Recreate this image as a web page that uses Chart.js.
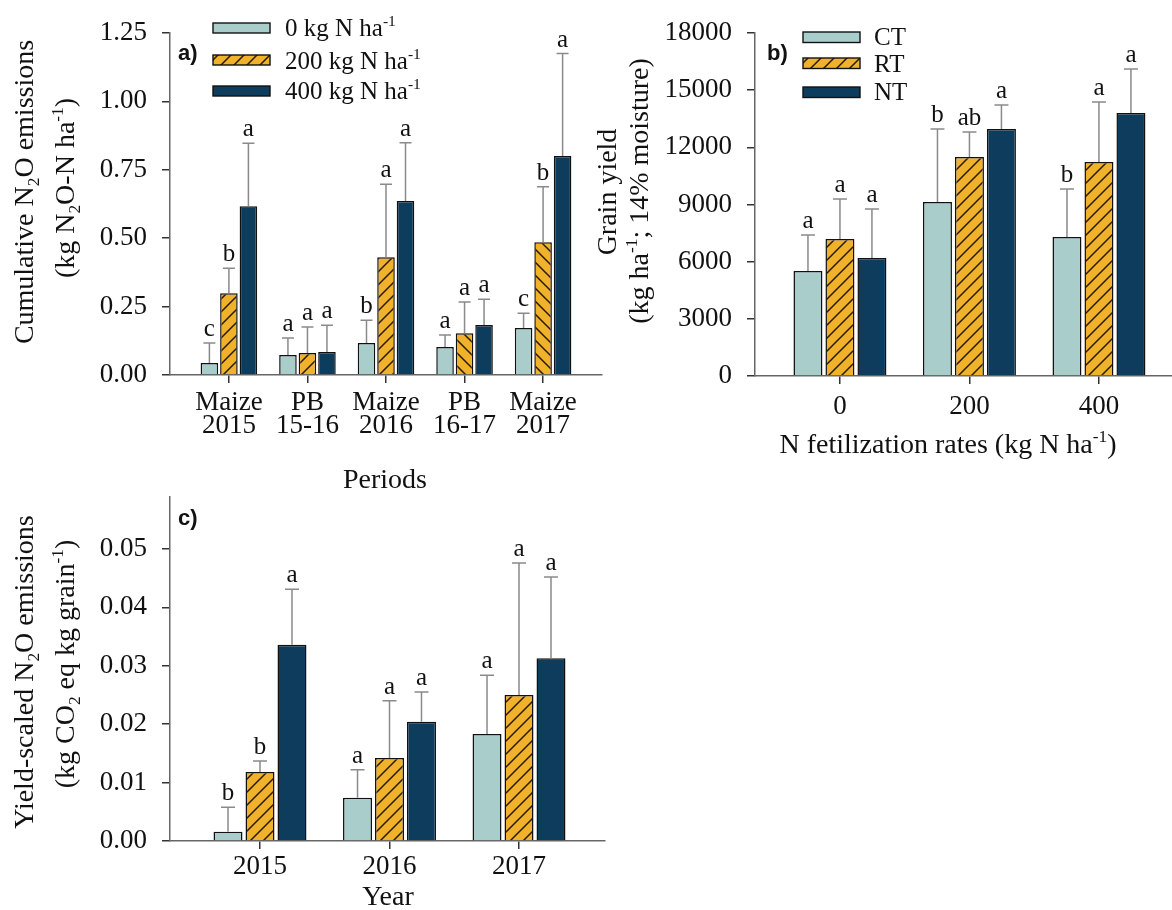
<!DOCTYPE html>
<html>
<head>
<meta charset="utf-8">
<script src="https://cdn.jsdelivr.net/npm/chart.js@4.4.1/dist/chart.umd.min.js"></script>
<style>
  html, body { margin: 0; padding: 0; background: #fff; }
  body { width: 1172px; height: 910px; position: relative; overflow: hidden; }
  canvas { position: absolute; }
</style>
</head>
<body>
<canvas id="panelA" width="615" height="500" style="left:0;top:0"></canvas>
<canvas id="panelB" width="592" height="470" style="left:580px;top:0"></canvas>
<canvas id="panelC" width="615" height="430" style="left:0;top:480px"></canvas>
<script>
// a) cumulative N2O emissions per period, by N rate
const periodLabels = [["Maize", "2015"], ["PB", "15-16"], ["Maize", "2016"], ["PB", "16-17"], ["Maize", "2017"]];
const cumTicks = [0, 0.25, 0.5, 0.75, 1.0, 1.25];
const cumN0 = [0.044, 0.073, 0.117, 0.102, 0.172];
const cumN200 = [0.299, 0.080, 0.430, 0.153, 0.485];
const cumN400 = [0.617, 0.084, 0.636, 0.183, 0.800];
const cumN0Err = [0.073, 0.062, 0.083, 0.044, 0.054];
const cumN200Err = [0.091, 0.095, 0.267, 0.114, 0.203];
const cumN400Err = [0.230, 0.098, 0.213, 0.094, 0.375];
const cumN0Sig = ["c", "a", "b", "a", "c"];
const cumN200Sig = ["b", "a", "a", "a", "b"];
const cumN400Sig = ["a", "a", "a", "a", "a"];

// b) grain yield by N rate, by tillage
const nRateLabels = ["0", "200", "400"];
const yieldTicks = [0, 3000, 6000, 9000, 12000, 15000, 18000];
const yieldCT = [5510, 9130, 7290];
const yieldRT = [7190, 11490, 11230];
const yieldNT = [6190, 12960, 13800];
const yieldCTErr = [1890, 3830, 2520];
const yieldRTErr = [2100, 1310, 3150];
const yieldNTErr = [2570, 1260, 2310];
const yieldCTSig = ["a", "b", "b"];
const yieldRTSig = ["a", "ab", "a"];
const yieldNTSig = ["a", "a", "a"];

// c) yield-scaled N2O emissions per year, by N rate
const yearLabels = ["2015", "2016", "2017"];
const ysTicks = [0, 0.01, 0.02, 0.03, 0.04, 0.05];
const ysN0 = [0.0016, 0.0074, 0.0183];
const ysN200 = [0.0118, 0.0142, 0.0250];
const ysN400 = [0.0336, 0.0204, 0.0313];
const ysN0Err = [0.0042, 0.0048, 0.0101];
const ysN200Err = [0.0019, 0.0098, 0.0226];
const ysN400Err = [0.0095, 0.0051, 0.0139];
const ysN0Sig = ["b", "a", "a"];
const ysN200Sig = ["b", "a", "a"];
const ysN400Sig = ["a", "a", "a"];

const SERIF = "'Liberation Serif', 'Times New Roman', serif";
const SANS = "'Liberation Sans', Arial, sans-serif";
const TEAL = "#a9cdcb";
const ORANGE = "#f0b22b";
const NAVY = "#0e3c5c";

Chart.defaults.font.family = SERIF;
Chart.defaults.color = "#111";

function hatch(dir) {
  const s = 13;
  const c = document.createElement("canvas");
  c.width = c.height = s;
  const g = c.getContext("2d");
  g.fillStyle = ORANGE;
  g.fillRect(0, 0, s, s);
  g.strokeStyle = "#2a1a08";
  g.lineWidth = 1.5;
  g.beginPath();
  if (dir === "/") {
    g.moveTo(-1, s + 1); g.lineTo(s + 1, -1);
    g.moveTo(-2, 2); g.lineTo(2, -2);
    g.moveTo(s - 2, s + 2); g.lineTo(s + 2, s - 2);
  } else {
    g.moveTo(-1, -1); g.lineTo(s + 1, s + 1);
    g.moveTo(s - 2, -2); g.lineTo(s + 2, 2);
    g.moveTo(-2, s - 2); g.lineTo(2, s + 2);
  }
  g.stroke();
  return g.createPattern(c, "repeat");
}
const HATCH_F = hatch("/");
const HATCH_B = hatch("\\");

// text with sub/superscript pieces: [[text], [text, 'sub'|'sup'], ...]
function richText(ctx, segs, x, y, size, opts) {
  opts = opts || {};
  const parts = segs.map(([t, k]) => {
    const fs = k ? size * 0.62 : size;
    ctx.font = fs + "px " + SERIF;
    return { t, k, fs, w: ctx.measureText(t).width };
  });
  const total = parts.reduce((a, p) => a + p.w, 0);
  ctx.save();
  ctx.translate(x, y);
  if (opts.rotate) ctx.rotate(-Math.PI / 2);
  ctx.fillStyle = "#111";
  ctx.textBaseline = "alphabetic";
  ctx.textAlign = "left";
  let cx = opts.align === "left" ? 0 : -total / 2;
  parts.forEach(p => {
    ctx.font = p.fs + "px " + SERIF;
    const dy = p.k === "sub" ? size * 0.22 : p.k === "sup" ? -size * 0.4 : 0;
    ctx.fillText(p.t, cx, dy);
    cx += p.w;
  });
  ctx.restore();
}

// error bars, significance letters, titles, legend and panel tag
function decor(cfg) {
  return {
    id: "decor",
    afterDatasetsDraw(chart) {
      const ctx = chart.ctx;
      const yScale = chart.scales.y;
      ctx.save();
      chart.data.datasets.forEach((ds, di) => {
        chart.getDatasetMeta(di).data.forEach((bar, j) => {
          const top = yScale.getPixelForValue(ds.data[j].y + ds.err[j]);
          ctx.strokeStyle = "#8a8a8a";
          ctx.lineWidth = 1.5;
          ctx.beginPath();
          ctx.moveTo(bar.x, bar.y);
          ctx.lineTo(bar.x, top);
          ctx.moveTo(bar.x - cfg.cap / 2, top);
          ctx.lineTo(bar.x + cfg.cap / 2, top);
          ctx.stroke();
          ctx.fillStyle = "#111";
          ctx.font = "25px " + SERIF;
          ctx.textAlign = "center";
          ctx.textBaseline = "alphabetic";
          ctx.fillText(ds.sig[j], bar.x, top - 7);
        });
      });
      ctx.restore();
    },
    afterDraw(chart) {
      const ctx = chart.ctx;
      cfg.titles.forEach(t => richText(ctx, t.segs, t.x, t.y, 28, { rotate: t.rotate }));
      const lg = cfg.legend;
      if (lg) {
        chart.data.datasets.forEach((ds, i) => {
          ctx.fillStyle = ds.legendFill;
          ctx.fillRect(lg.x, lg.boxTop[i], lg.w, lg.h);
          ctx.strokeStyle = "#111";
          ctx.lineWidth = 1.4;
          ctx.strokeRect(lg.x, lg.boxTop[i], lg.w, lg.h);
          richText(ctx, ds.legendText, lg.textX, lg.baseline[i], 25, { align: "left" });
        });
      }
      ctx.save();
      ctx.font = "bold 22px " + SANS;
      ctx.fillStyle = "#111";
      ctx.textAlign = "left";
      ctx.textBaseline = "alphabetic";
      ctx.fillText(cfg.tag.text, cfg.tag.x, cfg.tag.y);
      ctx.restore();
    }
  };
}

function dataset(values, err, sig, fill, legendFill, legendText) {
  return {
    data: values.map((v, i) => ({ x: i + 1, y: v })),
    err, sig, legendFill, legendText,
    backgroundColor: fill,
    borderColor: "#111",
    borderWidth: 1.5
  };
}

function makePanel(id, o) {
  o.datasets.forEach(ds => {
    ds.categoryPercentage = o.catPct;
    ds.barPercentage = o.barPct;
  });
  const gridOpts = { offset: false, drawOnChartArea: false, drawTicks: true, tickLength: 8, color: "#333", lineWidth: 1.5 };
  const borderOpts = { display: true, color: "#666", width: 1.5 };
  return new Chart(document.getElementById(id), {
    type: "bar",
    data: { datasets: o.datasets },
    options: {
      responsive: false,
      animation: false,
      devicePixelRatio: 1,
      layout: { padding: o.padding },
      plugins: { legend: { display: false }, tooltip: { enabled: false } },
      scales: {
        x: {
          type: "linear", min: o.xMin, max: o.xMax, offset: false,
          afterBuildTicks: s => { s.ticks = o.cats.map((_, i) => ({ value: i + 1 })); },
          afterFit: s => { s.height = o.xHeight; s.paddingLeft = 0; s.paddingRight = 0; },
          ticks: {
            callback: v => o.cats[v - 1],
            font: { size: 27, lineHeight: o.xLineHeight },
            padding: o.xPad, maxRotation: 0, autoSkip: false
          },
          grid: gridOpts,
          border: borderOpts
        },
        y: {
          min: 0, max: o.yMax,
          afterBuildTicks: s => { s.ticks = o.yTicks.map(v => ({ value: v })); },
          afterFit: s => { s.width = o.yWidth; s.paddingTop = 0; s.paddingBottom = 0; },
          ticks: { callback: o.yFmt, font: { size: 27 }, padding: 15 },
          grid: gridOpts,
          border: borderOpts
        }
      }
    },
    plugins: [decor(o.decor)]
  });
}

const nLegend = r => [[r + " kg N ha"], ["-1", "sup"]];

makePanel("panelA", {
  cats: periodLabels, xMin: 0.25, xMax: 5.75, xHeight: 125, xLineHeight: 0.86, xPad: 8,
  yMax: 1.25, yTicks: cumTicks, yWidth: 170, yFmt: v => v.toFixed(2),
  padding: { top: 33, right: 13, left: 0, bottom: 0 },
  catPct: 0.745, barPct: 0.9,
  datasets: [
    dataset(cumN0, cumN0Err, cumN0Sig, TEAL, TEAL, nLegend("0")),
    dataset(cumN200, cumN200Err, cumN200Sig, [HATCH_F, HATCH_F, HATCH_F, HATCH_B, HATCH_B], HATCH_F, nLegend("200")),
    dataset(cumN400, cumN400Err, cumN400Sig, NAVY, NAVY, nLegend("400"))
  ],
  decor: {
    cap: 12,
    titles: [
      { segs: [["Cumulative N"], ["2", "sub"], ["O emissions"]], x: 33, y: 192, rotate: true },
      { segs: [["(kg N"], ["2", "sub"], ["O-N ha"], ["-1", "sup"], [")"]], x: 74, y: 188, rotate: true },
      { segs: [["Periods"]], x: 385, y: 488 }
    ],
    legend: { x: 213, w: 57, h: 10, boxTop: [23, 55, 86], textX: 285, baseline: [36, 69, 99] },
    tag: { text: "a)", x: 178, y: 60 }
  }
});

makePanel("panelB", {
  cats: nRateLabels, xMin: 0.344, xMax: 3.564, xHeight: 94, xLineHeight: 1.2, xPad: 7,
  yMax: 18000, yTicks: yieldTicks, yWidth: 175, yFmt: v => String(v),
  padding: { top: 33, right: 0, left: 0, bottom: 0 },
  catPct: 0.741, barPct: 0.906,
  datasets: [
    dataset(yieldCT, yieldCTErr, yieldCTSig, TEAL, TEAL, [["CT"]]),
    dataset(yieldRT, yieldRTErr, yieldRTSig, HATCH_F, HATCH_F, [["RT"]]),
    dataset(yieldNT, yieldNTErr, yieldNTSig, NAVY, NAVY, [["NT"]])
  ],
  decor: {
    cap: 14,
    titles: [
      { segs: [["Grain yield"]], x: 36, y: 192, rotate: true },
      { segs: [["(kg ha"], ["-1", "sup"], ["; 14% moisture)"]], x: 68, y: 191, rotate: true },
      { segs: [["N fetilization rates (kg N ha"], ["-1", "sup"], [")"]], x: 368, y: 453 }
    ],
    legend: { x: 223, w: 57, h: 10.5, boxTop: [32, 58, 87], textX: 294, baseline: [45, 72, 100] },
    tag: { text: "b)", x: 187, y: 60 }
  }
});

makePanel("panelC", {
  cats: yearLabels, xMin: 0.305, xMax: 3.664, xHeight: 69, xLineHeight: 1.2, xPad: 2,
  yMax: 0.0589, yTicks: ysTicks, yWidth: 170, yFmt: v => v.toFixed(2),
  padding: { top: 17, right: 10, left: 0, bottom: 0 },
  catPct: 0.741, barPct: 0.906,
  datasets: [
    dataset(ysN0, ysN0Err, ysN0Sig, TEAL, TEAL, []),
    dataset(ysN200, ysN200Err, ysN200Sig, HATCH_F, HATCH_F, []),
    dataset(ysN400, ysN400Err, ysN400Sig, NAVY, NAVY, [])
  ],
  decor: {
    cap: 14,
    titles: [
      { segs: [["Yield-scaled N"], ["2", "sub"], ["O emissions"]], x: 33, y: 192, rotate: true },
      { segs: [["(kg CO"], ["2", "sub"], [" eq kg grain"], ["-1", "sup"], [")"]], x: 74, y: 184, rotate: true },
      { segs: [["Year"]], x: 388, y: 425 }
    ],
    legend: null,
    tag: { text: "c)", x: 178, y: 45 }
  }
});
</script>
</body>
</html>
